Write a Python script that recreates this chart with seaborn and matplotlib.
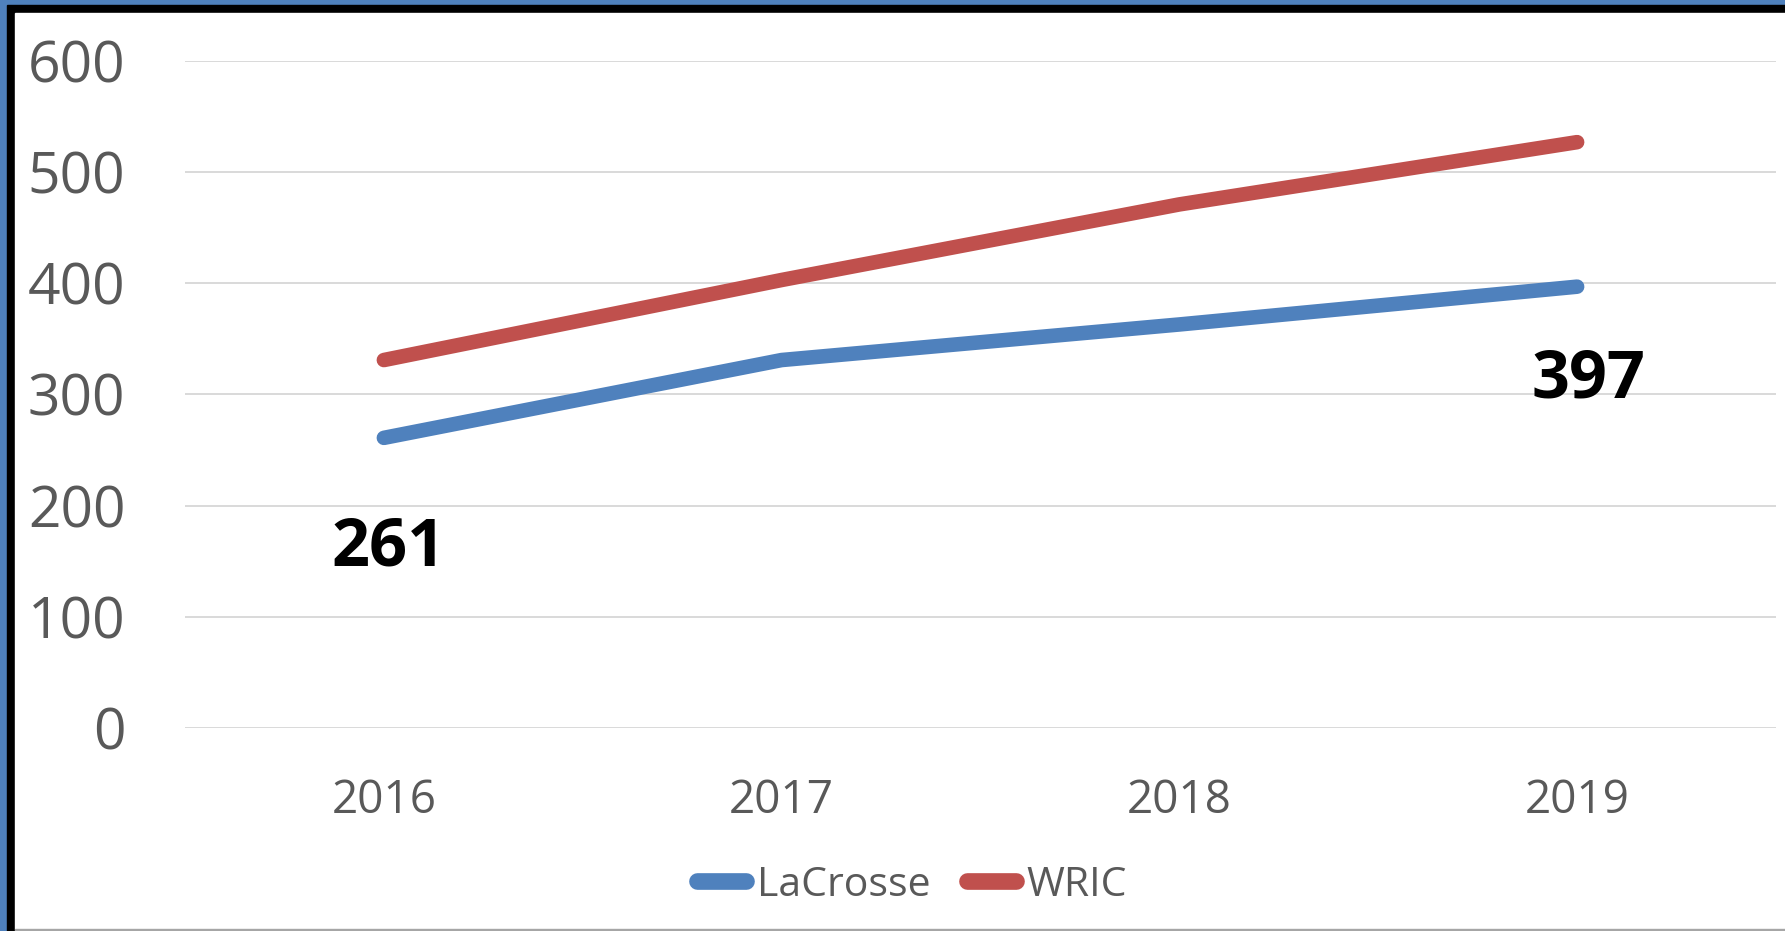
import pandas as pd
import matplotlib.pyplot as plt
from matplotlib.patches import Rectangle
import seaborn as sns

# data
years = [2016, 2017, 2018, 2019]
lacrosse = [261, 331, 363, 397]
wric = [331, 403, 471, 527]
series_names = ['LaCrosse', 'WRIC']
label_points = [0, 3]          # which LaCrosse points carry a value label
yticks = [0, 100, 200, 300, 400, 500, 600]

df = pd.DataFrame({
    'Year': years * 2,
    'Value': lacrosse + wric,
    'Series': [series_names[0]] * len(years) + [series_names[1]] * len(years),
})

sns.set_style('white')
plt.rcParams['font.family'] = ['Open Sans', 'DejaVu Sans']

W, H = 1785, 931
fig = plt.figure(figsize=(W / 100, H / 100), dpi=100, facecolor='#4F81BD')

# frame: blue outside, black inner border, white chart area, grey bottom line
fig.add_artist(Rectangle((7 / W, 0), (W - 7) / W, (H - 5) / H,
                         transform=fig.transFigure, color='black', zorder=-10))
fig.add_artist(Rectangle((15 / W, 2 / H), (W - 15) / W, (H - 15) / H,
                         transform=fig.transFigure, color='white', zorder=-9))
fig.add_artist(Rectangle((15 / W, 0), (W - 15) / W, 2 / H,
                         transform=fig.transFigure, color='#A6A6A6', zorder=-9))

ax = fig.add_axes([185 / W, (H - 728) / H, 1591 / W, 667 / H])
ax.set_facecolor('none')

palette = {'LaCrosse': '#4F81BD', 'WRIC': '#C0504D'}
sns.lineplot(data=df, x='Year', y='Value', hue='Series', palette=palette,
             linewidth=10.5, solid_capstyle='round', solid_joinstyle='round',
             ax=ax, zorder=3)

ax.set_xlim(years[0] - 0.5, years[-1] + 0.5)
ax.set_ylim(0, 600)
ax.set_xticks(years)
ax.set_yticks(yticks)
ax.set_xlabel('')
ax.set_ylabel('')
for s in ax.spines.values():
    s.set_visible(False)
ax.grid(axis='y', color='#D9D9D9', linewidth=1.4, zorder=0)
ax.grid(axis='x', visible=False)
ax.tick_params(axis='y', length=0, pad=43, labelsize=41, labelcolor='#595959')
ax.tick_params(axis='x', length=0, pad=36, labelsize=33, labelcolor='#595959')

# value labels under the LaCrosse line
offsets = {0: (5, -128), 3: (11, -111)}
for i in label_points:
    ax.annotate(str(lacrosse[i]), (years[i], lacrosse[i]),
                xytext=offsets[i], textcoords='offset pixels',
                ha='center', va='baseline', fontsize=48, fontweight='bold',
                color='black')

handles, labels = ax.get_legend_handles_labels()
ax.get_legend().remove()
leg = fig.legend(handles, labels, loc='center', bbox_to_anchor=(0.511, 0.049),
                 ncol=2, frameon=False, fontsize=29.5, handlelength=1.2,
                 handletextpad=0.25, columnspacing=0.9, labelcolor='#595959')
for h in leg.get_lines():
    h.set_linewidth(12)
    h.set_solid_capstyle('round')

fig.savefig('out.png', dpi=100, facecolor=fig.get_facecolor())
